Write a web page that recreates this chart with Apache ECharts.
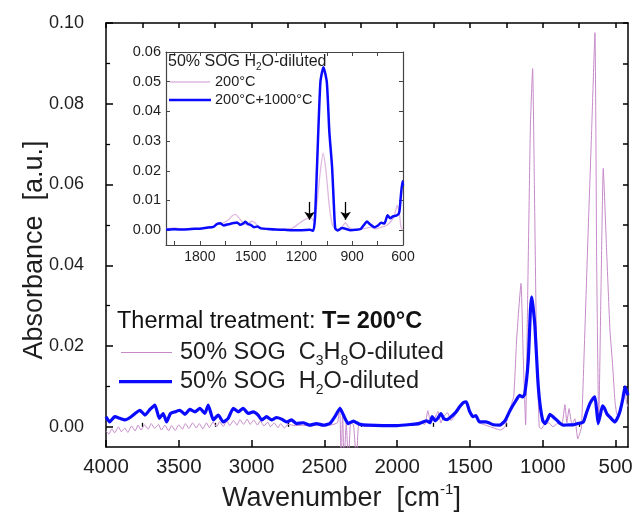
<!DOCTYPE html>
<html><head><meta charset="utf-8">
<script src="https://cdn.jsdelivr.net/npm/echarts@6/dist/echarts.min.js"></script>
<style>html,body{margin:0;padding:0;background:#fff}#c{width:634px;height:515px}</style>
</head><body><div id="c"></div>
<script>
// ---------- DATA ----------
const mainWaveH2O = [4000,3975,3940,3905,3870,3835,3800,3767,3732,3698,3664,3634,3607,3584,3557,3527,3492,3458,3424,3389,3355,3321,3298,3263,3229,3195,3161,3126,3092,3058,3024,2989,2955,2931,2897,2863,2829,2794,2760,2726,2691,2646,2600,2554,2508,2462,2428,2393,2370,2359,2336,2302,2256,2200,2100,2000,1900,1850,1800,1775,1760,1740,1720,1700,1680,1660,1640,1600,1570,1545,1525,1505,1480,1460,1435,1390,1340,1295,1260,1226,1190,1160,1140,1125,1100,1085,1077,1068,1054,1035,1020,1000,985,965,951,930,906,880,860,820,791,760,722,700,676,655,642,630,620,605,590,575,560,539,505,490,471,450,436,425,415];
const mainAbsH2O = [0.0025,0.0012,0.0025,0.0021,0.0017,0.0023,0.0033,0.0041,0.0029,0.0043,0.0054,0.0021,0.0033,0.0012,0.0033,0.0037,0.0041,0.0031,0.0043,0.0037,0.0046,0.0033,0.0054,0.0017,0.0029,0.0012,0.0021,0.0046,0.0037,0.0046,0.0033,0.0037,0.0029,0.0017,0.0025,0.0017,0.0023,0.0019,0.0012,0.0017,0.0008,0.0010,0.0004,0.0008,0.0004,0.0008,0.0025,0.0046,0.0030,0.0021,0.0008,0.0014,0.0006,0.0004,0.0003,0.0003,0.0006,0.0008,0.0015,0.0010,0.0025,0.0015,0.0022,0.0033,0.0020,0.0018,0.0022,0.0035,0.0050,0.0060,0.0062,0.0040,0.0025,0.0028,0.0012,0.0012,0.0005,0.0004,0.0015,0.0040,0.0062,0.0078,0.0074,0.0080,0.0165,0.0290,0.0322,0.0300,0.0248,0.0120,0.0058,0.0015,0.0008,0.0020,0.0031,0.0025,0.0017,0.0008,0.0004,0.0005,0.0005,0.0008,0.0012,0.0035,0.0058,0.0070,0.0074,0.0040,0.0008,0.0030,0.0052,0.0045,0.0032,0.0024,0.0012,0.0020,0.0037,0.0070,0.0099,0.0088,0.0078];

const mainWaveC3H8O = [4000,3980,3960,3940,3915,3895,3870,3850,3825,3800,3780,3760,3735,3710,3690,3665,3640,3620,3595,3570,3550,3525,3500,3475,3455,3430,3405,3380,3360,3335,3310,3290,3265,3240,3220,3195,3170,3150,3125,3100,3080,3055,3030,3010,2985,2960,2940,2915,2890,2870,2845,2820,2800,2775,2750,2700,2650,2600,2550,2500,2450,2410,2395,2385,2375,2365,2350,2335,2320,2300,2280,2265,2240,2200,2100,2000,1900,1850,1810,1790,1770,1745,1720,1700,1680,1655,1630,1600,1570,1545,1525,1505,1480,1460,1435,1400,1360,1320,1290,1260,1230,1200,1180,1150,1135,1118,1105,1085,1070,1058,1045,1025,1010,990,960,930,900,870,848,835,820,800,780,760,745,734,710,690,665,642,630,616,600,585,562,539,520,505,490,470,450,436,425,415];
const mainAbsC3H8O = [-0.0010,-0.0018,-0.0005,-0.0015,0.0000,-0.0012,-0.0003,-0.0014,0.0002,-0.0010,0.0004,-0.0008,0.0005,-0.0006,0.0008,-0.0004,0.0006,-0.0008,0.0004,-0.0010,0.0003,-0.0009,0.0005,-0.0006,0.0008,-0.0004,0.0010,-0.0003,0.0008,-0.0005,0.0010,-0.0002,0.0012,0.0000,0.0013,0.0001,0.0014,0.0003,0.0016,0.0004,0.0018,0.0006,0.0019,0.0006,0.0017,0.0004,0.0015,0.0002,0.0012,0.0000,0.0010,-0.0002,0.0008,-0.0003,0.0006,0.0003,0.0004,0.0002,0.0004,0.0002,0.0005,0.0010,0.0050,-0.0090,0.0035,-0.0090,0.0010,-0.0090,0.0010,0.0005,-0.0090,0.0005,0.0003,0.0002,0.0002,0.0003,0.0006,0.0012,0.0006,0.0040,0.0012,0.0020,0.0038,0.0010,0.0025,0.0035,0.0015,0.0030,0.0048,0.0058,0.0060,0.0038,0.0022,0.0030,0.0010,0.0005,0.0000,-0.0005,-0.0008,0.0000,0.0040,0.0075,0.0215,0.0355,0.0180,0.0005,0.0300,0.0750,0.0887,0.0600,0.0250,0.0000,-0.0005,0.0005,0.0010,0.0000,0.0008,0.0005,0.0055,0.0010,0.0045,0.0005,0.0020,-0.0030,-0.0015,0.0000,0.0250,0.0470,0.0730,0.0976,0.0400,0.0010,0.0350,0.0640,0.0437,0.0240,0.0150,0.0066,0.0030,0.0035,0.0075,0.0095,0.0060,0.0050];

const insetWave1000 = [2000,1950,1900,1850,1800,1760,1720,1700,1680,1660,1630,1600,1580,1562,1545,1531,1515,1500,1480,1460,1440,1400,1350,1300,1250,1200,1150,1130,1120,1108,1088,1070,1050,1035,1019,1008,1000,985,960,940,910,880,850,830,813,795,770,750,728,710,691,675,660,635,622,612,603,600];
const insetAbs1000 = [0.0002,0.0003,0.0002,0.0004,0.0005,0.0008,0.0011,0.0020,0.0023,0.0016,0.0020,0.0024,0.0026,0.0018,0.0022,0.0028,0.0020,0.0018,0.0010,0.0012,0.0006,0.0004,0.0002,0.0001,0.0000,0.0000,0.0001,-0.0002,0.0040,0.0213,0.0498,0.0549,0.0498,0.0330,0.0213,0.0080,0.0005,-0.0001,0.0007,0.0005,0.0000,0.0001,0.0004,0.0018,0.0029,0.0020,0.0010,0.0015,0.0025,0.0022,0.0050,0.0040,0.0046,0.0050,0.0060,0.0120,0.0165,0.0150];

const insetWave200 = [2000,1950,1900,1850,1800,1760,1720,1690,1660,1630,1610,1590,1570,1545,1520,1495,1475,1450,1400,1350,1300,1250,1220,1190,1165,1145,1125,1110,1090,1072,1055,1035,1015,990,960,941,920,890,850,820,790,760,730,700,670,650,635,622,612,600];
const insetAbs200 = [0.0005,0.0008,0.0004,0.0006,0.0005,0.0010,0.0012,0.0020,0.0025,0.0035,0.0048,0.0053,0.0042,0.0025,0.0018,0.0030,0.0025,0.0010,0.0004,0.0002,0.0003,0.0008,0.0020,0.0032,0.0040,0.0042,0.0030,0.0080,0.0190,0.0259,0.0200,0.0080,0.0015,0.0003,0.0010,0.0025,0.0010,0.0002,0.0003,0.0006,0.0010,0.0004,0.0010,0.0015,0.0030,0.0050,0.0083,0.0060,0.0010,0.0000];

const mainXTicks = [4000,3500,3000,2500,2000,1500,1000,500];
const mainXMinor = [3750,3250,2750,2250,1750,1250,750];
const mainYTicks = [0,0.02,0.04,0.06,0.08,0.10];
const mainYMinor = [0.01,0.03,0.05,0.07,0.09];
const insetXTicks = [1800,1500,1200,900,600];
const insetXMinor = [1950,1650,1350,1050,750];
const insetYTicks = [0,0.01,0.02,0.03,0.04,0.05,0.06];
const arrowWaves = [1152, 939];

// ---------- CHART ----------
const FF = 'Liberation Sans, Arial, sans-serif';
const TXT = '#1e1e1e';
const PINK = '#c68ac9';
const PINK2 = '#dfb8df';
const BLUE = '#0a0aff';
const zip = (xs, ys) => xs.map((x, i) => [x, ys[i]]);
const plain = v => String(Math.round(v));

const chart = echarts.init(document.getElementById('c'), null, {renderer: 'canvas'});

function tickOnly(grid, pos, vals, len, extra) {
  return Object.assign({
    gridIndex: grid, type: 'value', position: pos,
    axisLine: {show: false}, splitLine: {show: false},
    axisTick: {show: true, inside: true, length: len, customValues: vals, lineStyle: {color: '#000', width: 1.3}},
    axisLabel: {show: false}
  }, extra);
}

const option = {
  animation: false,
  backgroundColor: '#fff',
  grid: [
    {left: 106, top: 23, width: 522, height: 424, containLabel: false, outerBoundsMode: 'none'},
    {left: 166, top: 52, width: 237, height: 193, containLabel: false, outerBoundsMode: 'none', show: true, backgroundColor: '#fff', borderWidth: 0}
  ],
  xAxis: [
    {gridIndex: 0, type: 'value', inverse: true, min: 415, max: 4000, position: 'bottom',
     axisLine: {show: true, onZero: false, lineStyle: {color: '#000', width: 1.5}},
     axisTick: {show: true, inside: true, length: 7, customValues: mainXTicks, lineStyle: {color: '#000', width: 1.5}},
     axisLabel: {show: true, customValues: mainXTicks, margin: 10, fontSize: 20.5, color: TXT, fontFamily: FF, formatter: plain},
     splitLine: {show: false}},
    tickOnly(0, 'bottom', mainXMinor, 4, {inverse: true, min: 415, max: 4000}),
    {gridIndex: 0, type: 'value', inverse: true, min: 415, max: 4000, position: 'top',
     axisLine: {show: true, onZero: false, lineStyle: {color: '#000', width: 1.5}},
     axisTick: {show: true, inside: true, length: 5, customValues: mainXTicks.concat(mainXMinor), lineStyle: {color: '#000', width: 1.5}},
     axisLabel: {show: false}, splitLine: {show: false}},
    {gridIndex: 1, type: 'value', inverse: true, min: 600, max: 2000, position: 'bottom',
     axisLine: {show: true, onZero: false, lineStyle: {color: '#444', width: 1.2}},
     axisTick: {show: true, inside: true, length: 4, customValues: insetXTicks.concat(insetXMinor), lineStyle: {color: '#444', width: 1}},
     axisLabel: {show: true, customValues: insetXTicks, margin: 5, fontSize: 14, color: TXT, fontFamily: FF, formatter: plain},
     splitLine: {show: false}},
    {gridIndex: 1, type: 'value', inverse: true, min: 600, max: 2000, position: 'top',
     axisLine: {show: true, onZero: false, lineStyle: {color: '#444', width: 1.2}},
     axisTick: {show: true, inside: true, length: 4, customValues: insetXTicks.concat(insetXMinor), lineStyle: {color: '#444', width: 1}},
     axisLabel: {show: false}, splitLine: {show: false}}
  ],
  yAxis: [
    {gridIndex: 0, type: 'value', min: -0.005, max: 0.10, position: 'left',
     axisLine: {show: true, onZero: false, lineStyle: {color: '#000', width: 1.5}},
     axisTick: {show: true, inside: true, length: 7, customValues: mainYTicks, lineStyle: {color: '#000', width: 1.5}},
     axisLabel: {show: true, customValues: mainYTicks, margin: 22, fontSize: 18, color: TXT, fontFamily: FF, formatter: v => v.toFixed(2)},
     splitLine: {show: false}},
    tickOnly(0, 'left', mainYMinor, 4, {min: -0.005, max: 0.10}),
    {gridIndex: 0, type: 'value', min: -0.005, max: 0.10, position: 'right',
     axisLine: {show: true, onZero: false, lineStyle: {color: '#000', width: 1.5}},
     axisTick: {show: true, inside: true, length: 5, customValues: mainYTicks.concat(mainYMinor), lineStyle: {color: '#000', width: 1.5}},
     axisLabel: {show: false}, splitLine: {show: false}},
    {gridIndex: 1, type: 'value', min: -0.005, max: 0.06, position: 'left',
     axisLine: {show: true, onZero: false, lineStyle: {color: '#444', width: 1.2}},
     axisTick: {show: true, inside: true, length: 4, customValues: insetYTicks, lineStyle: {color: '#444', width: 1}},
     axisLabel: {show: true, customValues: insetYTicks, margin: 5, fontSize: 14.5, color: TXT, fontFamily: FF, formatter: v => v.toFixed(2)},
     splitLine: {show: false}},
    {gridIndex: 1, type: 'value', min: -0.005, max: 0.06, position: 'right',
     axisLine: {show: true, onZero: false, lineStyle: {color: '#444', width: 1.2}},
     axisTick: {show: true, inside: true, length: 4, customValues: insetYTicks, lineStyle: {color: '#444', width: 1}},
     axisLabel: {show: false}, splitLine: {show: false}}
  ],
  series: [
    {name: 'C3H8O', type: 'line', xAxisIndex: 0, yAxisIndex: 0, data: zip(mainWaveC3H8O, mainAbsC3H8O),
     symbol: 'none', smooth: 0.15, lineStyle: {color: PINK, width: 1}, z: 2},
    {name: 'H2O', type: 'line', xAxisIndex: 0, yAxisIndex: 0, data: zip(mainWaveH2O, mainAbsH2O),
     symbol: 'none', smooth: 0.15, lineStyle: {color: BLUE, width: 3.2}, z: 3},
    {name: '200', type: 'line', xAxisIndex: 3, yAxisIndex: 3, data: zip(insetWave200, insetAbs200),
     symbol: 'none', smooth: 0.2, lineStyle: {color: PINK2, width: 1.3}, z: 4},
    {name: '1000', type: 'line', xAxisIndex: 3, yAxisIndex: 3, data: zip(insetWave1000, insetAbs1000),
     symbol: 'none', smooth: 0.2, lineStyle: {color: BLUE, width: 2.5}, z: 5,
     markLine: {silent: true, symbol: ['none', 'arrow'], symbolSize: 8, label: {show: false},
       lineStyle: {color: '#000', width: 1.3, type: 'solid'},
       data: arrowWaves.map(w => [{coord: [w, 0.0095]}, {coord: [w, 0.0035]}])}}
  ],
  graphic: [
    {type: 'text', x: 35, y: 250, rotation: Math.PI / 2, z: 10,
     style: {text: 'Absorbance  [a.u.]', fontSize: 27, fontFamily: FF, fill: TXT, align: 'center', verticalAlign: 'middle'}},
    {type: 'text', x: 222, y: 499, z: 10,
     style: {text: '{a|Wavenumber  [cm}{s|-1}{a|]}', align: 'left', verticalAlign: 'middle',
       rich: {a: {fontSize: 27, fontFamily: FF, fill: TXT, lineHeight: 34},
              s: {fontSize: 15, fontFamily: FF, fill: TXT, lineHeight: 15, verticalAlign: 'top'}}}},
    {type: 'text', x: 117, y: 322, z: 10,
     style: {text: '{n|Thermal treatment: }{b|T= 200°C}', align: 'left', verticalAlign: 'middle',
       rich: {n: {fontSize: 23.5, fontFamily: FF, fill: '#111'}, b: {fontSize: 23.5, fontFamily: FF, fill: '#111', fontWeight: 'bold'}}}},
    {type: 'line', z: 10, shape: {x1: 121, y1: 352.5, x2: 172, y2: 352.5}, style: {stroke: PINK, lineWidth: 1}},
    {type: 'text', x: 180, y: 352.5, z: 10,
     style: {text: '{t|50% SOG  C}{s|3}{t|H}{s|8}{t|O-diluted}', align: 'left', verticalAlign: 'middle',
       rich: {t: {fontSize: 23.5, fontFamily: FF, fill: TXT, lineHeight: 32},
              s: {fontSize: 14, fontFamily: FF, fill: TXT, lineHeight: 14, verticalAlign: 'bottom'}}}},
    {type: 'line', z: 10, shape: {x1: 119, y1: 381.6, x2: 172, y2: 381.6}, style: {stroke: BLUE, lineWidth: 3.2}},
    {type: 'text', x: 180, y: 381.6, z: 10,
     style: {text: '{t|50% SOG  H}{s|2}{t|O-diluted}', align: 'left', verticalAlign: 'middle',
       rich: {t: {fontSize: 23.5, fontFamily: FF, fill: TXT, lineHeight: 32},
              s: {fontSize: 14, fontFamily: FF, fill: TXT, lineHeight: 14, verticalAlign: 'bottom'}}}},
    {type: 'text', x: 168, y: 62, z: 10,
     style: {text: '{t|50% SOG H}{s|2}{t|O-diluted}', align: 'left', verticalAlign: 'middle',
       rich: {t: {fontSize: 16, fontFamily: FF, fill: TXT, lineHeight: 20},
              s: {fontSize: 10, fontFamily: FF, fill: TXT, lineHeight: 10, verticalAlign: 'bottom'}}}},
    {type: 'line', z: 10, shape: {x1: 170, y1: 82, x2: 210, y2: 82}, style: {stroke: PINK2, lineWidth: 1.3}},
    {type: 'text', x: 215, y: 82, z: 10,
     style: {text: '200°C', fontSize: 14.5, fontFamily: FF, fill: TXT, align: 'left', verticalAlign: 'middle'}},
    {type: 'line', z: 10, shape: {x1: 169, y1: 100, x2: 211, y2: 100}, style: {stroke: BLUE, lineWidth: 2.5}},
    {type: 'text', x: 215, y: 100, z: 10,
     style: {text: '200°C+1000°C', fontSize: 14.5, fontFamily: FF, fill: TXT, align: 'left', verticalAlign: 'middle'}}
  ]
};
chart.setOption(option);
</script></body></html>
